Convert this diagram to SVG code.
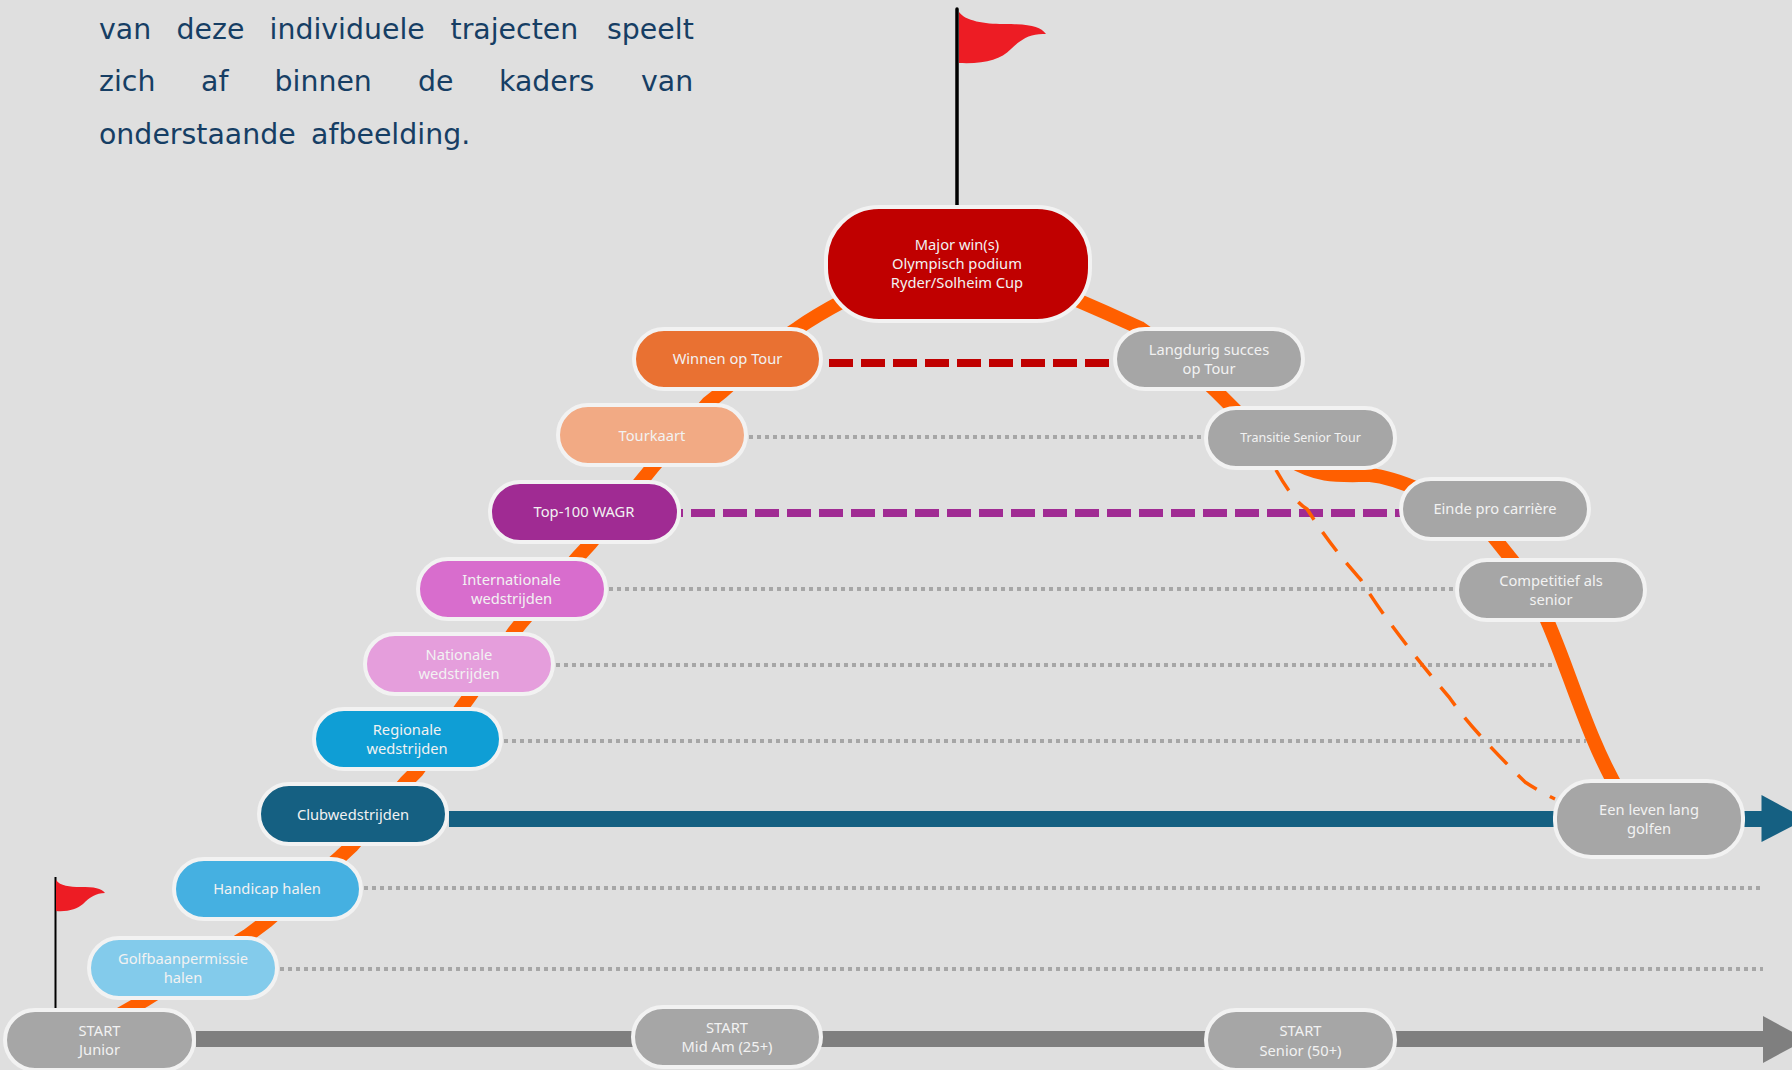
<svg xmlns="http://www.w3.org/2000/svg" width="1792" height="1070" viewBox="0 0 1792 1070">
<style>
.n{stroke:#f2f2f2;stroke-width:4}
.t{font-family:"Noto Sans","Open Sans",sans-serif;font-size:14.700px;fill:#f2f2f2;text-anchor:middle}
.h{font-family:"DejaVu Sans","Liberation Sans",sans-serif;font-size:28.400px;fill:#163e64}
.o{fill:none;stroke:#ff5f00;stroke-width:14}
.d{fill:none;stroke:#a6a6a6;stroke-width:4;stroke-dasharray:4 4}
.flag{fill:#ed1c24}
</style>
<rect width="1792" height="1070" fill="#dfdfdf"/>
<g id="intro">
<text class="h" y="39"><tspan x="99">van</tspan><tspan x="176.500">deze</tspan><tspan x="269.500">individuele</tspan><tspan x="450.500">trajecten</tspan><tspan x="607">speelt</tspan></text>
<text class="h" y="91"><tspan x="99">zich</tspan><tspan x="201">af</tspan><tspan x="274.500">binnen</tspan><tspan x="418">de</tspan><tspan x="499">kaders</tspan><tspan x="641">van</tspan></text>
<text class="h" y="144"><tspan x="99">onderstaande</tspan><tspan x="311">afbeelding.</tspan></text>
</g>
<g id="connectors">
<path class="d" d="M749 437H1205"/>
<path class="d" d="M609 589H1457"/>
<path class="d" d="M556 665H1553"/>
<path class="d" d="M504 741H1586"/>
<path class="d" d="M364 888H1763"/>
<path class="d" d="M280 969H1763"/>
<path d="M823 363H1115" fill="none" stroke="#c00000" stroke-width="8" stroke-dasharray="24 8" stroke-dashoffset="-6"/>
<path d="M681 513H1402" fill="none" stroke="#a02b93" stroke-width="8" stroke-dasharray="24 8" stroke-dashoffset="22"/>
<path class="o" d="M117 1016L131 1008L145 1000L247 936L267 921L340 857L352 846L406 782L417 771L462 707L470 696L514 632L522 622L578 557L590 544L643 479L652 468L708 403L722 392L780 340L798 328Q815 316 845 300"/>
<path class="o" d="M1070 297Q1105 312 1140 328Q1180 355 1217 392L1245 420"/>
<path class="o" d="M1290 460C1320 478 1340 475 1370 475Q1390 477 1420 490"/>
<path class="o" d="M1488 530L1520 570"/>
<path class="o" d="M1540 605C1565 655 1585 735 1621 795" stroke-width="15"/>
<path d="M1276 470C1290 495 1300 505 1307 509C1330 545 1348 565 1361 580C1385 620 1426 670 1449 697C1470 727 1500 757 1525 782Q1540 792 1555 799" fill="none" stroke="#ff5f00" stroke-width="3.500" stroke-dasharray="24 15"/>
<path d="M196 1039H1765" fill="none" stroke="#7f7f7f" stroke-width="16"/>
<path d="M1763 1016L1806 1039.500L1763 1063Z" fill="#7f7f7f"/>
<path d="M449 819H1763" fill="none" stroke="#156082" stroke-width="16"/>
<path d="M1761.500 795L1806 819L1761.500 842Z" fill="#156082"/>
</g>
<g id="flag-top">
<path d="M957 9V206" stroke="#000" stroke-width="3.500" stroke-linecap="round" fill="none"/>
<path class="flag" d="M959 12C965 21 985 24 1003 24C1030 24 1040 26 1046 34C1032 33 1022 38 1011 49C1000 60 985 64 959 63Z"/>
</g>
<g id="flag-start">
<path d="M55.500 877V1009" stroke="#000" stroke-width="2" fill="none"/>
<path class="flag" d="M56 880C60 886 70 887 80 887C95 887 101 888 105 893C96 893 90 897 83 904C77 909 68 912 56 911Z"/>
</g>
<g id="major"><rect class="n" x="826" y="207" width="264" height="114" rx="53" fill="#c00000"/><text class="t" x="957" y="250">Major win(s)</text><text class="t" x="957" y="269">Olympisch podium</text><text class="t" x="957" y="288">Ryder/Solheim Cup</text></g>
<g id="winnen"><rect class="n" x="634" y="329" width="187" height="60" rx="30" fill="#e97132"/><text class="t" x="727.500" y="364">Winnen op Tour</text></g>
<g id="langdurig"><rect class="n" x="1115" y="329" width="188" height="60" rx="30" fill="#a6a6a6"/><text class="t" x="1209" y="355">Langdurig succes</text><text class="t" x="1209" y="374">op Tour</text></g>
<g id="tourkaart"><rect class="n" x="558" y="405" width="188" height="60" rx="30" fill="#f2aa84"/><text class="t" x="652" y="441">Tourkaart</text></g>
<g id="transitie"><rect class="n" x="1206" y="408" width="189" height="60" rx="30" fill="#a6a6a6"/><text class="t" x="1300.500" y="442" style="font-size:12.500px">Transitie Senior Tour</text></g>
<g id="top100"><rect class="n" x="490" y="482" width="189" height="60" rx="30" fill="#a02b93"/><text class="t" x="584" y="517">Top-100 WAGR</text></g>
<g id="einde"><rect class="n" x="1401" y="479" width="188" height="60" rx="30" fill="#a6a6a6"/><text class="t" x="1495" y="514">Einde pro carrière</text></g>
<g id="internationale"><rect class="n" x="418" y="559" width="188" height="60" rx="30" fill="#d86dcd"/><text class="t" x="511.500" y="585">Internationale</text><text class="t" x="511.500" y="604">wedstrijden</text></g>
<g id="competitief"><rect class="n" x="1457" y="560" width="188" height="60" rx="30" fill="#a6a6a6"/><text class="t" x="1551" y="586">Competitief als</text><text class="t" x="1551" y="605">senior</text></g>
<g id="nationale"><rect class="n" x="365" y="634" width="188" height="60" rx="30" fill="#e59edc"/><text class="t" x="459" y="660">Nationale</text><text class="t" x="459" y="679">wedstrijden</text></g>
<g id="regionale"><rect class="n" x="314" y="709" width="187" height="60" rx="30" fill="#0f9ed5"/><text class="t" x="407" y="735">Regionale</text><text class="t" x="407" y="754">wedstrijden</text></g>
<g id="club"><rect class="n" x="259" y="784" width="188" height="60" rx="30" fill="#156082"/><text class="t" x="353" y="820">Clubwedstrijden</text></g>
<g id="leven"><rect class="n" x="1555" y="781" width="188" height="76" rx="36" fill="#a6a6a6"/><text class="t" x="1649" y="815">Een leven lang</text><text class="t" x="1649" y="834">golfen</text></g>
<g id="handicap"><rect class="n" x="174" y="859" width="187" height="60" rx="30" fill="#45b0e1"/><text class="t" x="267" y="894">Handicap halen</text></g>
<g id="golfbaan"><rect class="n" x="89" y="938" width="188" height="60" rx="30" fill="#83cbeb"/><text class="t" x="183" y="964">Golfbaanpermissie</text><text class="t" x="183" y="983">halen</text></g>
<g id="start-junior"><rect class="n" x="5" y="1010" width="189" height="60" rx="30" fill="#a6a6a6"/><text class="t" x="99.500" y="1036">START</text><text class="t" x="99.500" y="1055">Junior</text></g>
<g id="start-midam"><rect class="n" x="633" y="1007" width="188" height="60" rx="30" fill="#a6a6a6"/><text class="t" x="727" y="1033">START</text><text class="t" x="727" y="1052">Mid Am (25+)</text></g>
<g id="start-senior"><rect class="n" x="1206" y="1010" width="189" height="60" rx="30" fill="#a6a6a6"/><text class="t" x="1300.500" y="1036">START</text><text class="t" x="1300.500" y="1056">Senior (50+)</text></g>
</svg>
